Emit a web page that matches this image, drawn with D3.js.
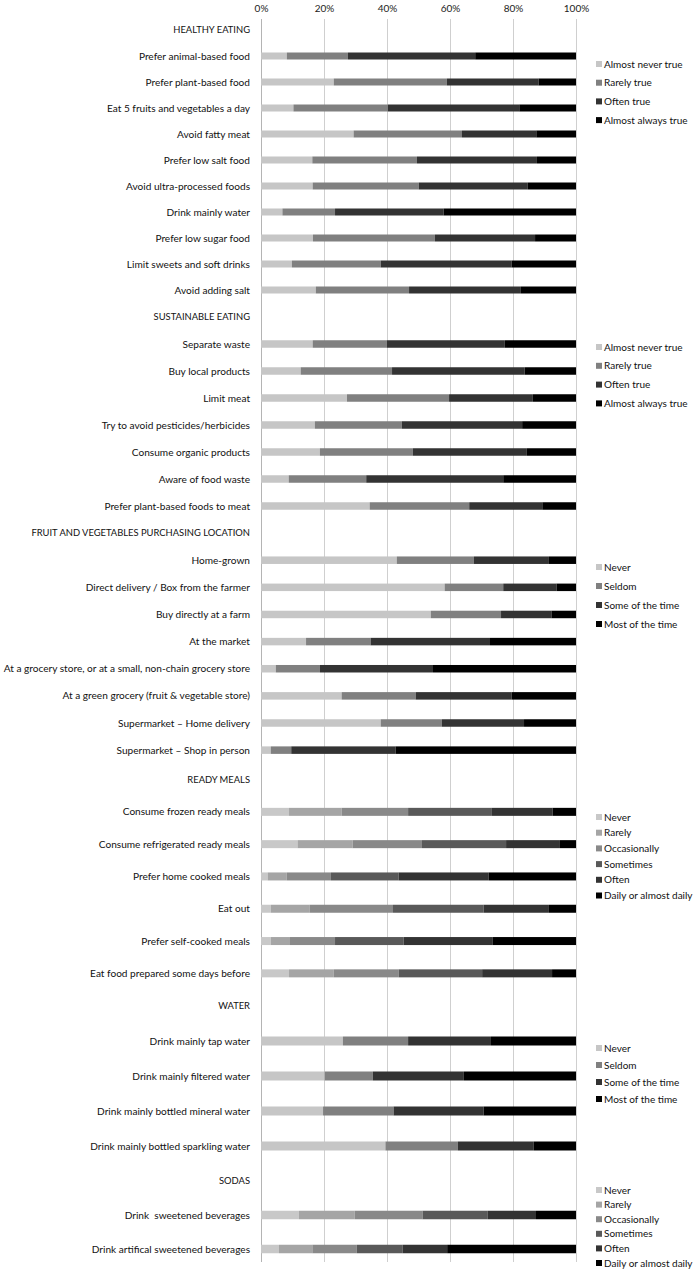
<!DOCTYPE html>
<html>
<head>
<meta charset="utf-8">
<script src="https://cdn.jsdelivr.net/npm/d3@7"></script>
<style>
  html, body { margin: 0; padding: 0; background: #fff; }
  svg text { font-family: "Lato", "Noto Sans", sans-serif; white-space: pre; }
</style>
</head>
<body>
<svg id="chart" width="698" height="1269"></svg>
<script>
// ---------- DATA ----------
const xTicks = [0, 20, 40, 60, 80, 100];

const sectionTitles = ["HEALTHY EATING", "SUSTAINABLE EATING", "FRUIT AND VEGETABLES PURCHASING LOCATION", "READY MEALS", "WATER", "SODAS"];

const truthScale = ["Almost never true", "Rarely true", "Often true", "Almost always true"];
const timeScale4 = ["Never", "Seldom", "Some of the time", "Most of the time"];
const freqScale6 = ["Never", "Rarely", "Occasionally", "Sometimes", "Often", "Daily or almost daily"];

const healthyItems = ["Prefer animal-based food", "Prefer plant-based food", "Eat 5 fruits and vegetables a day", "Avoid fatty meat", "Prefer low salt food", "Avoid ultra-processed foods", "Drink mainly water", "Prefer low sugar food", "Limit sweets and soft drinks", "Avoid adding salt"];
const healthyValues = [
  [8.2, 19.4, 40.4, 32.0],
  [23.1, 35.9, 29.1, 11.9],
  [10.3, 30.0, 41.7, 18.0],
  [29.4, 34.4, 23.6, 12.6],
  [16.3, 33.2, 38.1, 12.4],
  [16.4, 33.7, 34.6, 15.3],
  [6.8, 16.7, 34.5, 42.0],
  [16.5, 38.7, 31.8, 13.0],
  [9.8, 28.2, 41.6, 20.4],
  [17.4, 29.6, 35.5, 17.5]
];

const sustainableItems = ["Separate waste", "Buy local products", "Limit meat", "Try to avoid pesticides/herbicides", "Consume organic products", "Aware of food waste", "Prefer plant-based foods to meat"];
const sustainableValues = [
  [16.4, 23.5, 37.5, 22.6],
  [12.6, 29.0, 42.1, 16.3],
  [27.3, 32.4, 26.6, 13.7],
  [17.1, 27.6, 38.2, 17.1],
  [18.7, 29.5, 36.2, 15.6],
  [8.8, 24.6, 43.5, 23.1],
  [34.5, 31.6, 23.2, 10.7]
];

const purchaseItems = ["Home-grown", "Direct delivery / Box from the farmer", "Buy directly at a farm", "At the market", "At a grocery store, or at a small, non-chain grocery store", "At a green grocery (fruit & vegetable store)", "Supermarket \u2013 Home delivery", "Supermarket \u2013 Shop in person"];
const purchaseValues = [
  [43.1, 24.5, 23.8, 8.6],
  [58.3, 18.6, 16.9, 6.2],
  [53.9, 22.3, 16.0, 7.8],
  [14.3, 20.5, 37.9, 27.3],
  [4.7, 14.0, 35.9, 45.4],
  [25.6, 23.5, 30.5, 20.4],
  [38.0, 19.4, 26.1, 16.5],
  [3.1, 6.5, 33.1, 57.3]
];

const readyItems = ["Consume frozen ready meals", "Consume refrigerated ready meals", "Prefer home cooked meals", "Eat out", "Prefer self-cooked meals", "Eat food prepared some days before"];
const readyValues = [
  [8.9, 16.7, 21.1, 26.6, 19.3, 7.4],
  [11.6, 17.5, 22.0, 26.7, 17.1, 5.1],
  [2.1, 6.1, 14.0, 21.5, 28.6, 27.7],
  [3.1, 12.3, 26.5, 28.8, 20.7, 8.6],
  [3.1, 6.1, 14.3, 21.8, 28.3, 26.4],
  [8.9, 14.2, 20.6, 26.5, 22.2, 7.6]
];

const waterItems = ["Drink mainly tap water", "Drink mainly filtered water", "Drink mainly bottled mineral water", "Drink mainly bottled sparkling water"];
const waterValues = [
  [26.0, 20.7, 26.3, 27.0],
  [20.2, 15.3, 28.9, 35.6],
  [19.7, 22.4, 28.6, 29.3],
  [39.5, 23.0, 24.1, 13.4]
];

const sodaItems = ["Drink  sweetened beverages", "Drink artifical sweetened beverages"];
const sodaValues = [
  [12.0, 17.7, 21.6, 20.7, 15.3, 12.7],
  [5.7, 10.6, 14.1, 14.6, 14.1, 40.9]
];

// ---------- STYLE / LAYOUT ----------
const colors4 = ["#c6c6c6", "#808080", "#333333", "#000000"];
const colors6 = ["#c8c8c8", "#a5a5a5", "#898989", "#595959", "#333333", "#000000"];

const panels = [
  { title: sectionTitles[0], items: healthyItems, values: healthyValues, cats: truthScale, colors: colors4 },
  { title: sectionTitles[1], items: sustainableItems, values: sustainableValues, cats: truthScale, colors: colors4 },
  { title: sectionTitles[2], items: purchaseItems, values: purchaseValues, cats: timeScale4, colors: colors4 },
  { title: sectionTitles[3], items: readyItems, values: readyValues, cats: freqScale6, colors: colors6 },
  { title: sectionTitles[4], items: waterItems, values: waterValues, cats: timeScale4, colors: colors4 },
  { title: sectionTitles[5], items: sodaItems, values: sodaValues, cats: freqScale6, colors: colors6 }
];
const panelRanges = [[17, 303], [303.5, 519.5], [519.5, 763.7], [763.4, 989.5], [988.5, 1163.5], [1164, 1266]];
const barHeights = [7, 7.5, 7.5, 8, 9, 8.5];
const legendLayout = [[64, 18.7], [347, 18.8], [567, 19], [817, 15.7], [1048, 17], [1190, 14.6]];
const gridTop = 19, gridBottom = 1262;
const labelSize = 10.1, headerSize = 9.4, legendSize = 10;

const svg = d3.select("#chart");
const x = d3.scaleLinear().domain([0, 100]).range([261, 576]);

// gridlines
svg.append("g").selectAll("line").data(xTicks).join("line")
  .attr("x1", d => Math.round(x(d)) + 0.5).attr("x2", d => Math.round(x(d)) + 0.5)
  .attr("y1", gridTop).attr("y2", gridBottom)
  .attr("stroke", d => d === 0 ? "#b4b4b4" : "#cfcfcf").attr("stroke-width", 1);

// top axis
const axis = d3.axisTop(x).tickValues(xTicks).tickFormat(d => d + "%").tickSize(0).tickPadding(0);
const ag = svg.append("g").attr("transform", "translate(0,12)").call(axis);
ag.select(".domain").remove();
ag.selectAll("text").attr("font-size", 10).attr("fill", "#222").attr("dy", 0)
  .style("font-family", '"Lato", sans-serif');

panels.forEach((p, pi) => {
  const y = d3.scaleBand().domain([p.title, ...p.items]).range(panelRanges[pi]).padding(0);
  const bh = barHeights[pi];
  const g = svg.append("g");

  // header
  g.append("text").attr("x", 250).attr("y", y(p.title) + y.bandwidth() / 2)
    .attr("dy", "0.35em").attr("text-anchor", "end").attr("font-size", headerSize).attr("fill", "#111")
    .text(p.title);

  // labels
  g.selectAll("text.lbl").data(p.items).join("text").attr("class", "lbl")
    .attr("x", 250).attr("y", d => y(d) + y.bandwidth() / 2).attr("dy", "0.35em")
    .attr("text-anchor", "end").attr("font-size", labelSize).attr("fill", "#111")
    .text(d => d);

  // stacked bars
  const rows = p.items.map((it, i) => {
    const o = { item: it };
    p.cats.forEach((c, j) => o[c] = p.values[i][j]);
    return o;
  });
  const series = d3.stack().keys(p.cats)(rows);
  g.selectAll("g.s").data(series).join("g").attr("class", "s")
    .attr("fill", (d, j) => p.colors[j])
    .selectAll("rect").data(d => d).join("rect")
    .attr("x", d => x(d[0]))
    .attr("width", d => x(d[1]) - x(d[0]))
    .attr("y", d => y(d.data.item) + y.bandwidth() / 2 - bh / 2)
    .attr("height", bh);

  // legend
  const [ly0, lstep] = legendLayout[pi];
  const lg = g.append("g");
  const li = lg.selectAll("g").data(p.cats).join("g")
    .attr("transform", (d, j) => `translate(596,${ly0 + j * lstep})`);
  li.append("rect").attr("x", 0).attr("y", -3).attr("width", 6).attr("height", 6)
    .attr("fill", (d, j) => p.colors[j]);
  li.append("text").attr("x", 8).attr("y", 0).attr("dy", "0.35em")
    .attr("font-size", legendSize).attr("fill", "#111").text(d => d);
});
</script>
</body>
</html>
